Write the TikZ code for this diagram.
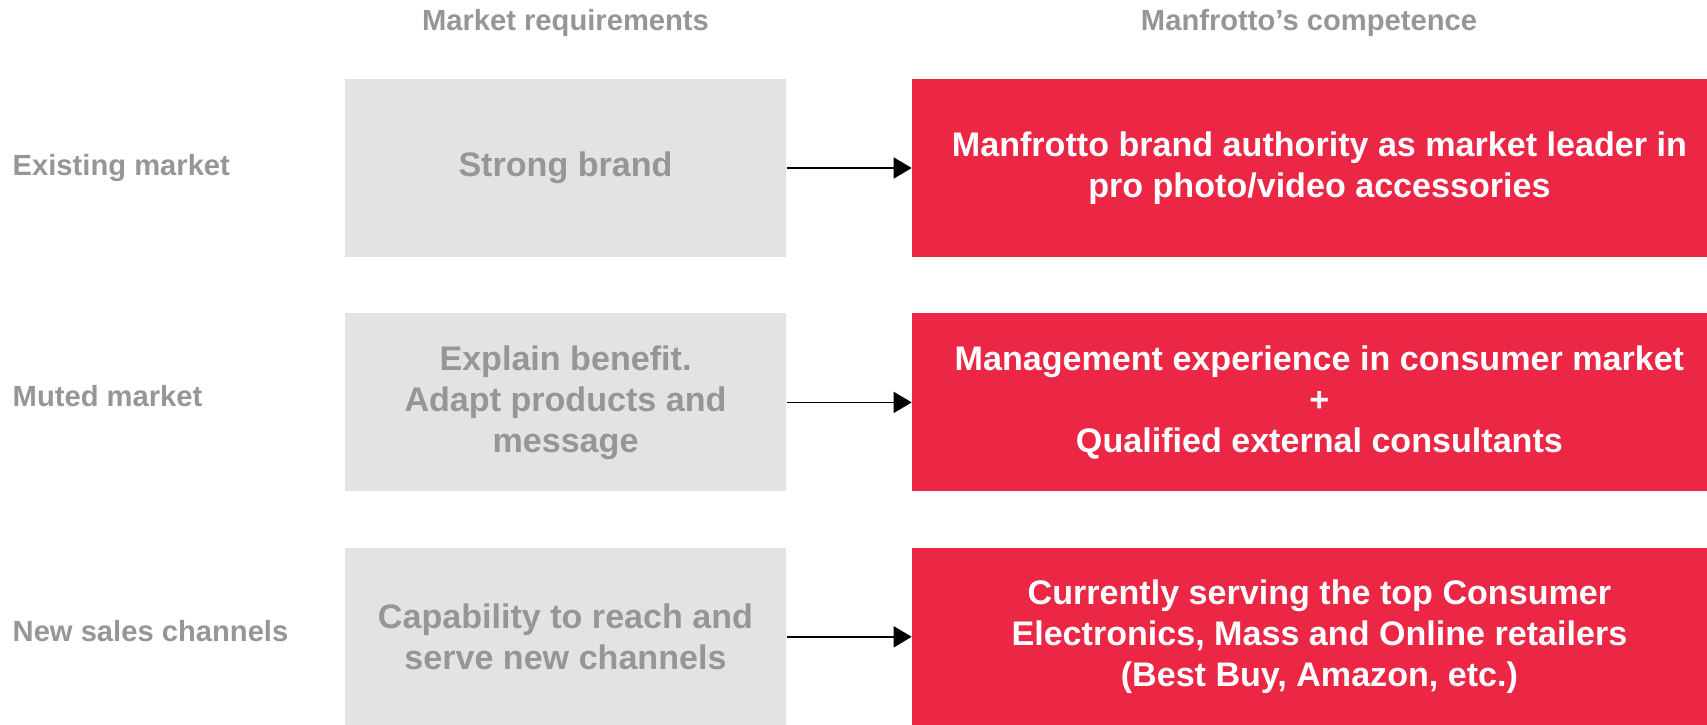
\documentclass[tikz,border=0pt]{standalone}
\usepackage{fontspec}
\setmainfont{Liberation Sans}
\usepackage{tikz}
\usetikzlibrary{positioning,arrows.meta}
\definecolor{mgray}{HTML}{969696}
\definecolor{lgray}{HTML}{E3E3E3}
\definecolor{mred}{HTML}{EC2645}
\tikzset{reqbox/.style={fill=lgray,text=mgray,minimum width=4.41cm,minimum height=1.78cm,inner sep=0pt,align=center,font=\fontsize{9.7}{11.7}\selectfont\bfseries},
	compbox/.style={fill=mred,text=white,minimum width=8.14cm,minimum height=1.78cm,inner sep=0pt,align=center,font=\fontsize{9.7}{11.7}\selectfont\bfseries},
	rowlabel/.style={text=mgray,anchor=west,inner sep=0pt,font=\fontsize{8.3}{10}\selectfont\bfseries},
	colhead/.style={text=mgray,inner sep=0pt,font=\fontsize{8.3}{10}\selectfont\bfseries},
	leadsto/.style={-{Triangle[length=0.18cm,width=0.21cm]},line width=0.4pt,black}}

\begin{document}
\begin{tikzpicture}
	\useasboundingbox (0,0) rectangle (17.07,7.24);
	\node[colhead] (hreq) at (5.655,7.01){Market requirements};
	\node[colhead] (hcomp) at (13.09,7.01){Manfrotto’s competence};
	\node[reqbox] (req1) at (5.655,5.56){Strong brand};
	\node[reqbox,below=0.55cm of req1] (req2){Explain benefit.\\Adapt products and\\message};
	\node[reqbox,below=0.55cm of req2] (req3){Capability to reach and\\serve new channels};
	\node[compbox,right=1.25cm of req1] (comp1){Manfrotto brand authority as market leader in\\pro photo/video accessories};
	\node[compbox,right=1.25cm of req2] (comp2){Management experience in consumer market\\+\\Qualified external consultants};
	\node[compbox,right=1.25cm of req3] (comp3){Currently serving the top Consumer\\Electronics, Mass and Online retailers\\(Best Buy, Amazon, etc.)};
	\node[rowlabel] (row1) at (0.12,5.56){Existing market};
	\node[rowlabel] (row2) at (0.12,3.28){Muted market};
	\node[rowlabel] (row3) at (0.12,0.93){New sales channels};
	\draw[leadsto] (req1) -- (comp1);
	\draw[leadsto] (req2) -- (comp2);
	\draw[leadsto] (req3) -- (comp3);
\end{tikzpicture}
\end{document}
